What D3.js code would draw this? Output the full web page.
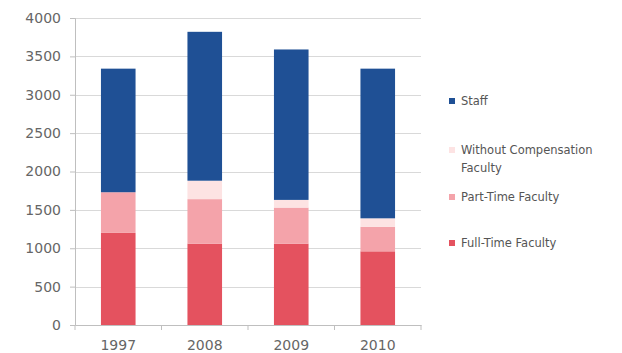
<!DOCTYPE html>
<html>
<head>
<meta charset="utf-8">
<script src="https://cdn.jsdelivr.net/npm/d3@7"></script>
<style>
  body { margin: 0; background: #fff; }
  text { font-family: "DejaVu Sans", Verdana, sans-serif; }
</style>
</head>
<body>
<div class="chart"></div>
<script>
let years = ["1997", "2008", "2009", "2010"];
let seriesNames = ["Full-Time Faculty", "Part-Time Faculty", "Without Compensation Faculty", "Staff"];
let fullTime = [1200, 1060, 1060, 960];
let partTime = [530, 580, 470, 320];
let withoutComp = [0, 240, 100, 110];
let staff = [1610, 1940, 1960, 1950];
let yTicks = [0, 500, 1000, 1500, 2000, 2500, 3000, 3500, 4000];

let colors = {
  "Full-Time Faculty": "#e4525f",
  "Part-Time Faculty": "#f4a3aa",
  "Without Compensation Faculty": "#fde3e3",
  "Staff": "#1f5095"
};

let svgWidth = 622;
let svgHeight = 353;
let margin = { top: 18, right: 201, bottom: 28, left: 75 };
let width = svgWidth - margin.left - margin.right;
let height = svgHeight - margin.top - margin.bottom;

let svg = d3.select(".chart")
  .append("svg")
  .attr("width", svgWidth)
  .attr("height", svgHeight);

let chartGroup = svg.append("g")
  .attr("transform", `translate(${margin.left}, ${margin.top})`);

let rows = years.map((y, i) => ({
  year: y,
  "Full-Time Faculty": fullTime[i],
  "Part-Time Faculty": partTime[i],
  "Without Compensation Faculty": withoutComp[i],
  "Staff": staff[i]
}));

let stacked = d3.stack().keys(seriesNames)(rows);

let x = d3.scaleBand()
  .domain(years)
  .range([0, width])
  .paddingInner(0.6)
  .paddingOuter(0.3);

let y = d3.scaleLinear()
  .domain([0, 4000])
  .range([height, 0]);

// gridlines
chartGroup.append("g")
  .selectAll("line")
  .data(yTicks.slice(1))
  .enter()
  .append("line")
  .attr("x1", 0)
  .attr("x2", width)
  .attr("y1", d => Math.round(y(d)) + 0.5)
  .attr("y2", d => Math.round(y(d)) + 0.5)
  .attr("stroke", "#d9d9d9");

// y axis
let leftAxis = d3.axisLeft(y).tickValues(yTicks).tickFormat(d3.format("d")).tickSize(5).tickPadding(9);
let yAxis = chartGroup.append("g").call(leftAxis);
yAxis.select(".domain").attr("stroke", "#bfbfbf");
yAxis.selectAll(".tick line").attr("stroke", "#bfbfbf");
yAxis.selectAll("text").attr("fill", "#666666").style("font-size", "14px");

// bars
chartGroup.selectAll("g.series")
  .data(stacked)
  .enter()
  .append("g")
  .attr("class", "series")
  .attr("fill", d => colors[d.key])
  .selectAll("rect")
  .data(d => d)
  .enter()
  .append("rect")
  .attr("x", d => x(d.data.year))
  .attr("width", x.bandwidth())
  .attr("y", d => y(d[1]))
  .attr("height", d => y(d[0]) - y(d[1]));

// x axis
let bottomAxis = d3.axisBottom(x).tickSize(0).tickPadding(15);
let xAxis = chartGroup.append("g")
  .attr("transform", `translate(0, ${height})`)
  .call(bottomAxis);
xAxis.select(".domain").attr("stroke", "#bfbfbf");
xAxis.selectAll("text").attr("fill", "#666666").style("font-size", "14px");

// tick marks between categories
let step = x.step();
let bounds = d3.range(years.length + 1).map(i => x(years[0]) - step * 0.3 + i * step);
xAxis.selectAll("line.sep")
  .data(bounds)
  .enter()
  .append("line")
  .attr("class", "sep")
  .attr("x1", d => d).attr("x2", d => d)
  .attr("y1", 0).attr("y2", 5)
  .attr("stroke", "#bfbfbf");

// legend
let legendY = { "Staff": 101, "Without Compensation Faculty": 150, "Part-Time Faculty": 197, "Full-Time Faculty": 243 };
let legend = svg.append("g");
seriesNames.slice().reverse().forEach(name => {
  let ly = legendY[name];
  legend.append("rect")
    .attr("x", 449).attr("y", ly - 3)
    .attr("width", 6).attr("height", 6)
    .attr("fill", colors[name]);
  let t = legend.append("text")
    .attr("x", 461).attr("y", ly + 4)
    .attr("fill", "#555555")
    .style("font-size", "11.5px");
  if (name === "Without Compensation Faculty") {
    t.text("Without Compensation");
    legend.append("text")
      .attr("x", 461).attr("y", ly + 22)
      .attr("fill", "#555555")
      .style("font-size", "11.5px")
      .text("Faculty");
  } else {
    t.text(name);
  }
});
</script>
</body>
</html>
